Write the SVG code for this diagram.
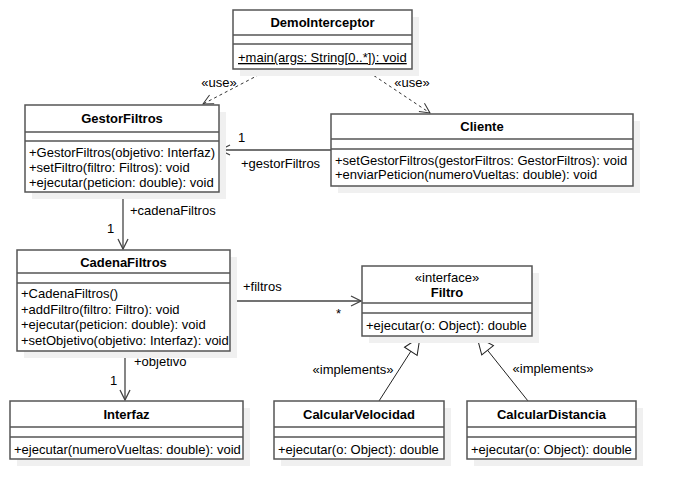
<svg xmlns="http://www.w3.org/2000/svg" width="676" height="499" viewBox="0 0 676 499">
<defs>
<style>
text{font-family:"Liberation Sans",Arial,sans-serif;font-size:13px;fill:#000}
.t{font-weight:bold;text-anchor:middle}
.c{text-anchor:middle}
.box{fill:#fff;stroke:#555;stroke-width:1.5}
.sh{fill:#f0f0f0;stroke:none}
.dv{stroke:#555;stroke-width:1.5}
.as{stroke:#444;stroke-width:1.3;fill:none}
.dep{stroke:#333;stroke-width:1;stroke-dasharray:3,3;fill:none}
.gen{stroke:#222;stroke-width:1;fill:none}
</style>
<marker id="open" markerUnits="userSpaceOnUse" markerWidth="14" markerHeight="14" refX="11" refY="6" orient="auto">
<path d="M1,1 L11,6 L1,11" fill="none" stroke="#444" stroke-width="1.3"/>
</marker>
<marker id="openD" markerUnits="userSpaceOnUse" markerWidth="14" markerHeight="14" refX="11" refY="6" orient="auto">
<path d="M1,1 L11,6 L1,11" fill="none" stroke="#333" stroke-width="1"/>
</marker>
<marker id="tri" markerUnits="userSpaceOnUse" markerWidth="20" markerHeight="18" refX="18" refY="9" orient="auto">
<path d="M1,1.5 L18,9 L1,16.5 Z" fill="#fff" stroke="#222" stroke-width="1"/>
</marker>
</defs>

<g id="connectors">
<path class="dep" d="M270,69 L203,104" marker-end="url(#openD)"/>
<text x="219" y="87" class="c">«use»</text>
<path class="dep" d="M364,69 L430,113" marker-end="url(#openD)"/>
<text x="412" y="87" class="c">«use»</text>
<path class="as" d="M331,150 L220,150" marker-end="url(#open)"/>
<text x="238" y="142">1</text>
<text x="241" y="168">+gestorFiltros</text>
<path class="as" d="M123,192 L123,249" marker-end="url(#open)"/>
<text x="130" y="215">+cadenaFiltros</text>
<text x="107" y="233">1</text>
<path class="as" d="M230,301 L361,301" marker-end="url(#open)"/>
<text x="243" y="291">+filtros</text>
<text x="336" y="318">*</text>
<path class="as" d="M125,351 L125,400" marker-end="url(#open)"/>
<text x="134" y="366">+objetivo</text>
<text x="110" y="385">1</text>
<path class="gen" d="M379,401 L420,337" marker-end="url(#tri)"/>
<text x="353" y="374" class="c">«implements»</text>
<path class="gen" d="M528,401 L477,337" marker-end="url(#tri)"/>
<text x="553" y="373" class="c">«implements»</text>
</g>

<g id="DemoInterceptor">
<rect class="sh" x="240" y="17" width="179" height="59"/>
<rect class="box" x="233" y="10" width="179" height="59"/>
<line class="dv" x1="233" y1="35" x2="412" y2="35"/>
<line class="dv" x1="233" y1="44" x2="412" y2="44"/>
<text x="322.5" y="27" class="t">DemoInterceptor</text>
<text x="238" y="62" text-decoration="underline">+main(args: String[0..*]): void</text>
</g>

<g id="GestorFiltros">
<rect class="sh" x="32" y="112" width="194" height="87"/>
<rect class="box" x="25" y="105" width="194" height="87"/>
<line class="dv" x1="25" y1="132" x2="219" y2="132"/>
<line class="dv" x1="25" y1="141" x2="219" y2="141"/>
<text x="122" y="123" class="t">GestorFiltros</text>
<text x="29" y="157">+GestorFiltros(objetivo: Interfaz)</text>
<text x="29" y="172">+setFiltro(filtro: Filtros): void</text>
<text x="29" y="187">+ejecutar(peticion: double): void</text>
</g>

<g id="Cliente">
<rect class="sh" x="338" y="121" width="302" height="72"/>
<rect class="box" x="331" y="114" width="302" height="72"/>
<line class="dv" x1="331" y1="139" x2="633" y2="139"/>
<line class="dv" x1="331" y1="149" x2="633" y2="149"/>
<text x="482" y="131" class="t">Cliente</text>
<text x="335" y="165">+setGestorFiltros(gestorFiltros: GestorFiltros): void</text>
<text x="335" y="179">+enviarPeticion(numeroVueltas: double): void</text>
</g>

<g id="CadenaFiltros">
<rect class="sh" x="24" y="257" width="213" height="101"/>
<rect class="box" x="17" y="250" width="213" height="101"/>
<line class="dv" x1="17" y1="273" x2="230" y2="273"/>
<line class="dv" x1="17" y1="283" x2="230" y2="283"/>
<text x="123.5" y="267" class="t">CadenaFiltros</text>
<text x="21" y="298">+CadenaFiltros()</text>
<text x="21" y="314">+addFiltro(filtro: Filtro): void</text>
<text x="21" y="329">+ejecutar(peticion: double): void</text>
<text x="21" y="345">+setObjetivo(objetivo: Interfaz): void</text>
</g>

<g id="Filtro">
<rect class="sh" x="369" y="273" width="170" height="70"/>
<rect class="box" x="362" y="266" width="170" height="70"/>
<line class="dv" x1="362" y1="303" x2="532" y2="303"/>
<line class="dv" x1="362" y1="313" x2="532" y2="313"/>
<text x="447" y="282" class="c">«interface»</text>
<text x="447" y="297" class="t">Filtro</text>
<text x="366" y="330">+ejecutar(o: Object): double</text>
</g>

<g id="Interfaz">
<rect class="sh" x="17" y="408" width="233" height="58"/>
<rect class="box" x="10" y="401" width="233" height="58"/>
<line class="dv" x1="10" y1="427" x2="243" y2="427"/>
<line class="dv" x1="10" y1="437" x2="243" y2="437"/>
<text x="126.5" y="419" class="t">Interfaz</text>
<text x="14" y="454">+ejecutar(numeroVueltas: double): void</text>
</g>

<g id="CalcularVelocidad">
<rect class="sh" x="281" y="408" width="170" height="58"/>
<rect class="box" x="274" y="401" width="170" height="58"/>
<line class="dv" x1="274" y1="427" x2="444" y2="427"/>
<line class="dv" x1="274" y1="437" x2="444" y2="437"/>
<text x="359" y="419" class="t">CalcularVelocidad</text>
<text x="278" y="454">+ejecutar(o: Object): double</text>
</g>

<g id="CalcularDistancia">
<rect class="sh" x="474" y="408" width="169" height="58"/>
<rect class="box" x="467" y="401" width="169" height="58"/>
<line class="dv" x1="467" y1="427" x2="636" y2="427"/>
<line class="dv" x1="467" y1="437" x2="636" y2="437"/>
<text x="551.5" y="419" class="t">CalcularDistancia</text>
<text x="471" y="454">+ejecutar(o: Object): double</text>
</g>
</svg>
